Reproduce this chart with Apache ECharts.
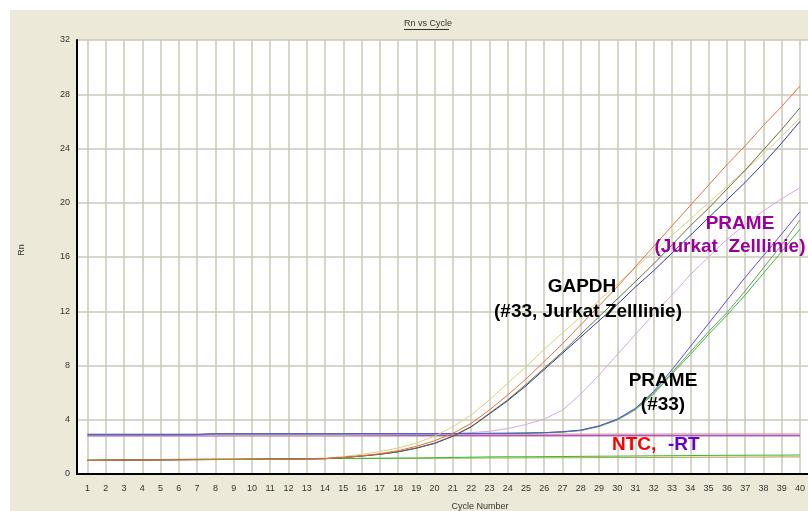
<!DOCTYPE html>
<html>
<head>
<meta charset="utf-8">
<script src="https://cdn.jsdelivr.net/npm/echarts@6/dist/echarts.min.js"></script>
<style>
	html, body { margin: 0; padding: 0; background: #ffffff; }
	#chart { width: 808px; height: 511px; }
</style>
</head>
<body>
<div id="chart"></div>
<script>
// cycle numbers (x) and tick labels
var cycles = [1,2,3,4,5,6,7,8,9,10,11,12,13,14,15,16,17,18,19,20,21,22,23,24,25,26,27,28,29,30,31,32,33,34,35,36,37,38,39,40];
var rnTicks = [0,4,8,12,16,20,24,28,32];

// GAPDH (#33, Jurkat) wells
var gapdhOrange = [1.00,1.01,1.02,1.03,1.05,1.05,1.06,1.06,1.07,1.08,1.08,1.09,1.10,1.13,1.22,1.35,1.50,1.72,2.04,2.45,3.00,3.73,4.72,5.82,7.00,8.30,9.60,11.0,12.4,13.8,15.3,16.8,18.3,19.8,21.3,22.8,24.2,25.7,27.1,28.6];
var gapdhYellow = [1.00,1.01,1.02,1.03,1.04,1.05,1.06,1.07,1.07,1.08,1.09,1.10,1.12,1.18,1.28,1.45,1.65,1.92,2.28,2.78,3.49,4.35,5.46,6.69,7.90,9.20,10.4,11.6,12.8,14.0,15.2,16.4,17.6,18.8,20.0,21.2,22.4,23.6,24.9,26.25];
var gapdhOlive = [1.00,1.01,1.02,1.03,1.04,1.05,1.06,1.07,1.07,1.08,1.09,1.10,1.11,1.13,1.22,1.33,1.46,1.64,1.92,2.28,2.80,3.49,4.47,5.46,6.60,7.80,9.00,10.3,11.6,12.9,14.2,15.5,16.9,18.3,19.6,21.0,22.4,23.9,25.4,27.0];
var gapdhNavy = [1.00,1.01,1.02,1.03,1.04,1.05,1.06,1.07,1.07,1.08,1.09,1.10,1.11,1.13,1.21,1.32,1.45,1.63,1.90,2.25,2.78,3.47,4.43,5.40,6.50,7.70,8.90,10.1,11.3,12.5,13.8,15.0,16.3,17.6,18.9,20.2,21.5,22.9,24.4,26.0];

// PRAME (#33) wells
var prameBlue = [2.93,2.93,2.93,2.93,2.93,2.93,2.93,2.97,2.97,2.97,2.97,2.97,2.97,2.97,2.97,2.98,2.98,2.98,2.98,2.98,2.99,2.99,3.00,3.00,3.02,3.05,3.12,3.24,3.55,4.05,4.85,6.10,7.70,9.40,11.1,12.8,14.5,16.1,17.7,19.34];
var prameGrey = [2.90,2.90,2.90,2.90,2.90,2.90,2.90,2.96,2.96,2.96,2.96,2.96,2.96,2.96,2.96,2.97,2.97,2.97,2.97,2.97,2.98,2.98,2.99,3.00,3.02,3.05,3.10,3.22,3.52,4.00,4.80,6.00,7.50,9.00,10.5,11.9,13.5,15.2,16.9,18.73];
var prameGreen = [2.90,2.90,2.90,2.90,2.90,2.90,2.90,2.96,2.96,2.96,2.96,2.96,2.96,2.96,2.96,2.97,2.97,2.97,2.97,2.97,2.98,2.98,2.99,3.00,3.01,3.04,3.09,3.20,3.50,3.98,4.75,5.90,7.40,8.80,10.3,11.7,13.2,14.8,16.4,18.06];

// PRAME (Jurkat) well
var prameJurkat = [2.80,2.80,2.80,2.80,2.80,2.80,2.80,2.85,2.85,2.85,2.85,2.85,2.85,2.85,2.85,2.87,2.88,2.89,2.90,2.93,2.98,3.05,3.15,3.35,3.65,4.05,4.70,5.90,7.30,8.80,10.3,11.8,13.2,14.7,16.0,17.3,18.4,19.4,20.3,21.1];

// NTC / -RT wells
var ntcPink = [2.92,2.92,2.92,2.92,2.92,2.92,2.92,2.93,2.93,2.93,2.93,2.93,2.93,2.93,2.93,2.93,2.93,2.93,2.93,2.93,2.94,2.94,2.94,2.94,2.94,2.94,2.94,2.94,2.94,2.94,2.94,2.94,2.95,2.95,2.95,2.95,2.95,2.95,2.95,2.95];
var rtPurple = [2.84,2.84,2.84,2.84,2.84,2.84,2.84,2.84,2.84,2.84,2.84,2.84,2.84,2.84,2.84,2.84,2.84,2.84,2.84,2.84,2.85,2.85,2.85,2.85,2.85,2.85,2.85,2.85,2.85,2.85,2.85,2.85,2.85,2.85,2.85,2.85,2.85,2.85,2.85,2.85];
var rtMagenta = [2.79,2.79,2.79,2.79,2.79,2.79,2.79,2.79,2.80,2.80,2.80,2.80,2.80,2.80,2.80,2.80,2.80,2.80,2.80,2.80,2.80,2.80,2.80,2.80,2.80,2.80,2.80,2.80,2.80,2.80,2.80,2.80,2.80,2.80,2.80,2.80,2.80,2.80,2.80,2.80];
var ntcGreen = [1.03,1.04,1.05,1.06,1.07,1.08,1.09,1.10,1.10,1.11,1.12,1.13,1.14,1.14,1.15,1.15,1.16,1.17,1.18,1.20,1.22,1.24,1.26,1.27,1.27,1.28,1.29,1.30,1.31,1.32,1.33,1.34,1.35,1.36,1.37,1.38,1.38,1.39,1.39,1.40];
var ntcOlive = [1.02,1.03,1.04,1.05,1.06,1.07,1.08,1.09,1.10,1.10,1.11,1.12,1.13,1.14,1.15,1.15,1.15,1.16,1.16,1.16,1.17,1.17,1.18,1.18,1.19,1.19,1.20,1.20,1.21,1.21,1.22,1.22,1.23,1.23,1.24,1.24,1.25,1.25,1.26,1.26];

function pairs(ys) {
	var out = [];
	for (var i = 0; i < cycles.length; i++) {
		out.push([cycles[i], ys[i]]);
	}
	return out;
}

function curve(name, ys, color) {
	return {
		name: name,
		type: 'line',
		data: pairs(ys),
		showSymbol: false,
		silent: true,
		lineStyle: { color: color, width: 1 },
		itemStyle: { color: color }
	};
}

var chart = echarts.init(document.getElementById('chart'), null, { renderer: 'canvas' });

var labelFont = { fontFamily: 'Liberation Sans', fontSize: 9, color: '#333333' };
var bigFont = 'Liberation Sans';

chart.setOption({
	animation: false,
	backgroundColor: '#ffffff',
	grid: { left: 77, top: 40, right: 0, bottom: 37, show: true, backgroundColor: '#ffffff', borderWidth: 0 },
	xAxis: {
		type: 'value',
		min: 0.425,
		max: 40.44,
		axisLine: { show: true, onZero: false, lineStyle: { color: '#000000', width: 2 } },
		axisTick: { show: false, customValues: cycles },
		axisLabel: Object.assign({ customValues: cycles, margin: 10 }, labelFont),
		splitLine: { show: true, lineStyle: { color: '#cbc7b7', width: 1.5 } }
	},
	yAxis: {
		type: 'value',
		min: 0,
		max: 32,
		interval: 4,
		axisLine: { show: true, onZero: false, lineStyle: { color: '#000000', width: 2 } },
		axisTick: { show: false },
		axisLabel: Object.assign({ margin: 7 }, labelFont),
		splitLine: { show: true, lineStyle: { color: '#cbc7b7', width: 1.5 } }
	},
	graphic: [
		// beige frame behind the plot
		{ type: 'rect', z: -10, silent: true, shape: { x: 10, y: 10, width: 798, height: 501 }, style: { fill: '#ece9d8' } },
		{ type: 'rect', z: -9, silent: true, shape: { x: 77, y: 40, width: 731, height: 434 }, style: { fill: '#ffffff' } },
		{ type: 'text', left: 404, top: 19, style: { text: 'Rn vs Cycle', font: '9px Liberation Sans', fill: '#333333' } },
		{ type: 'line', shape: { x1: 404, y1: 29.5, x2: 449, y2: 29.5 }, style: { stroke: '#333333', lineWidth: 1 } },
		{ type: 'text', x: 22, y: 250, rotation: Math.PI / 2, style: { text: 'Rn', font: '9px Liberation Sans', fill: '#333333', align: 'center', verticalAlign: 'middle' } },
		{ type: 'text', x: 480, y: 507, style: { text: 'Cycle Number', font: '9px Liberation Sans', fill: '#333333', align: 'center', verticalAlign: 'middle' } },

		{ type: 'text', x: 582, y: 287, z: 100, style: { text: 'GAPDH', font: 'bold 19px ' + bigFont, fill: '#000000', align: 'center', verticalAlign: 'middle' } },
		{ type: 'text', x: 588, y: 312, z: 100, style: { text: '(#33, Jurkat Zelllinie)', font: 'bold 19px ' + bigFont, fill: '#000000', align: 'center', verticalAlign: 'middle' } },
		{ type: 'text', x: 740, y: 224, z: 100, style: { text: 'PRAME', font: 'bold 19px ' + bigFont, fill: '#990099', align: 'center', verticalAlign: 'middle' } },
		{ type: 'text', x: 730, y: 247, z: 100, style: { text: '(Jurkat  Zelllinie)', font: 'bold 19px ' + bigFont, fill: '#990099', align: 'center', verticalAlign: 'middle' } },
		{ type: 'text', x: 663, y: 381, z: 100, style: { text: 'PRAME', font: 'bold 19px ' + bigFont, fill: '#000000', align: 'center', verticalAlign: 'middle' } },
		{ type: 'text', x: 663, y: 405, z: 100, style: { text: '(#33)', font: 'bold 19px ' + bigFont, fill: '#000000', align: 'center', verticalAlign: 'middle' } },
		{ type: 'text', x: 612, y: 445, z: 100, style: { text: 'NTC,', font: 'bold 19px ' + bigFont, fill: '#ff0000', verticalAlign: 'middle' } },
		{ type: 'text', x: 668, y: 445, z: 100, style: { text: '-RT', font: 'bold 19px ' + bigFont, fill: '#6600cc', verticalAlign: 'middle' } }
	],
	series: [
		curve('ntc olive', ntcOlive, '#a8a838'),
		curve('ntc green', ntcGreen, '#38b838'),
		curve('rt magenta', rtMagenta, '#c868c0'),
		curve('rt purple', rtPurple, '#8a50b8'),
		curve('ntc pink', ntcPink, '#e87890'),
		curve('PRAME Jurkat', prameJurkat, '#d8a8e0'),
		curve('PRAME green', prameGreen, '#30c030'),
		curve('PRAME grey', prameGrey, '#6a9a6a'),
		curve('PRAME blue', prameBlue, '#5a4ee0'),
		curve('GAPDH yellow', gapdhYellow, '#d8d47c'),
		curve('GAPDH navy', gapdhNavy, '#2c3c98'),
		curve('GAPDH olive', gapdhOlive, '#6b6b40'),
		curve('GAPDH orange', gapdhOrange, '#e8703a')
	]
});
</script>
</body>
</html>
